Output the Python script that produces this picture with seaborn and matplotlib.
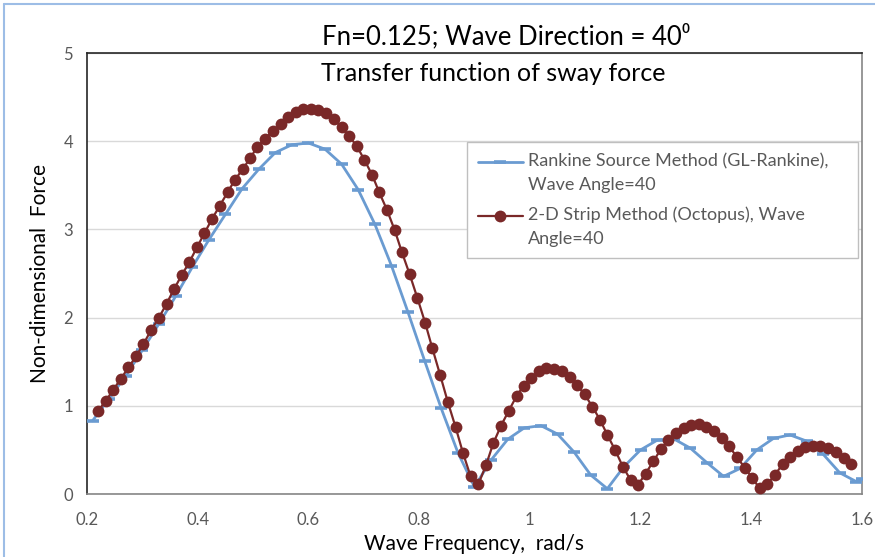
import matplotlib
matplotlib.use("Agg")
import matplotlib.pyplot as plt
from matplotlib.legend_handler import HandlerLine2D
import seaborn as sns
import pandas as pd

# Rankine source method (GL-Rankine), wave angle 40
blue_freq = [0.21, 0.24, 0.27, 0.30, 0.33, 0.36, 0.39, 0.42, 0.45, 0.48,
             0.51, 0.54, 0.57, 0.60, 0.63, 0.66, 0.69, 0.72, 0.75, 0.78,
             0.81, 0.84, 0.87, 0.90, 0.93, 0.96, 0.99, 1.02, 1.05, 1.08,
             1.11, 1.14, 1.17, 1.20, 1.23, 1.26, 1.29, 1.32, 1.35, 1.38,
             1.41, 1.44, 1.47, 1.50, 1.53, 1.56, 1.59, 1.60]
blue_force = [0.83, 1.08, 1.34, 1.63, 1.93, 2.24, 2.57, 2.88, 3.17, 3.46,
              3.68, 3.87, 3.96, 3.98, 3.91, 3.74, 3.45, 3.06, 2.59, 2.06,
              1.51, 0.97, 0.47, 0.08, 0.385, 0.62, 0.75, 0.775, 0.68, 0.475,
              0.215, 0.06, 0.31, 0.50, 0.61, 0.625, 0.52, 0.355, 0.20, 0.29,
              0.50, 0.63, 0.67, 0.60, 0.45, 0.24, 0.14, 0.17]

# 2-D strip method (Octopus), wave angle 40
red_freq = [0.220, 0.234, 0.247, 0.261, 0.275, 0.289, 0.302, 0.316, 0.330, 0.344,
            0.357, 0.371, 0.385, 0.399, 0.412, 0.426, 0.440, 0.454, 0.467, 0.481,
            0.495, 0.508, 0.522, 0.536, 0.550, 0.563, 0.577, 0.591, 0.605, 0.618,
            0.632, 0.646, 0.660, 0.673, 0.687, 0.701, 0.715, 0.728, 0.742, 0.756,
            0.769, 0.783, 0.797, 0.811, 0.824, 0.838, 0.852, 0.866, 0.879, 0.893,
            0.907, 0.921, 0.934, 0.948, 0.962, 0.976, 0.989, 1.003, 1.017, 1.030,
            1.044, 1.058, 1.072, 1.085, 1.099, 1.113, 1.127, 1.140, 1.154, 1.168,
            1.182, 1.195, 1.209, 1.223, 1.237, 1.250, 1.264, 1.278, 1.292, 1.305,
            1.319, 1.333, 1.347, 1.360, 1.374, 1.388, 1.402, 1.415, 1.429, 1.443,
            1.457, 1.470, 1.484, 1.498, 1.512, 1.525, 1.539, 1.553, 1.567, 1.580]
red_force = [0.945, 1.054, 1.179, 1.304, 1.436, 1.565, 1.70, 1.86, 2.00, 2.16,
             2.32, 2.48, 2.63, 2.80, 2.955, 3.12, 3.27, 3.42, 3.56, 3.68,
             3.81, 3.94, 4.03, 4.12, 4.19, 4.28, 4.33, 4.36, 4.37, 4.35,
             4.32, 4.25, 4.16, 4.06, 3.95, 3.79, 3.62, 3.42, 3.22, 2.99,
             2.74, 2.49, 2.22, 1.94, 1.65, 1.35, 1.04, 0.756, 0.47, 0.20,
             0.11, 0.33, 0.575, 0.775, 0.944, 1.11, 1.23, 1.32, 1.39, 1.425,
             1.417, 1.39, 1.33, 1.235, 1.13, 0.99, 0.84, 0.67, 0.50, 0.31,
             0.16, 0.10, 0.23, 0.37, 0.51, 0.61, 0.695, 0.745, 0.78, 0.79,
             0.76, 0.72, 0.64, 0.54, 0.42, 0.30, 0.18, 0.065, 0.11, 0.22,
             0.34, 0.42, 0.49, 0.53, 0.545, 0.545, 0.52, 0.48, 0.41, 0.34]

x_ticks = [0.2, 0.4, 0.6, 0.8, 1.0, 1.2, 1.4, 1.6]
x_tick_labels = ["0.2", "0.4", "0.6", "0.8", "1", "1.2", "1.4", "1.6"]
y_ticks = [0, 1, 2, 3, 4, 5]

label_blue = "Rankine Source Method (GL-Rankine),\nWave Angle=40"
label_red = "2-D Strip Method (Octopus), Wave\nAngle=40"


class FirstLineHandler(HandlerLine2D):
    # put the legend sample level with the first text line, like Excel does
    def create_artists(self, legend, orig_handle, xdescent, ydescent,
                       width, height, fontsize, trans):
        artists = super().create_artists(legend, orig_handle, xdescent, ydescent,
                                         width, height, fontsize, trans)
        for a in artists:
            a.set_ydata([y + 0.62 * fontsize for y in a.get_ydata()])
        return artists


sns.set_style("white")
plt.rcParams["font.family"] = ["Lato", "DejaVu Sans"]

blue = "#6a9bd1"
red = "#7a2828"
grey_text = "#595959"

df_blue = pd.DataFrame({"freq": blue_freq, "force": blue_force})
df_red = pd.DataFrame({"freq": red_freq, "force": red_force})

fig = plt.figure(figsize=(8.75, 5.57), dpi=100)
ax = fig.add_axes([0.0994, 0.1131, 0.8857, 0.7917])

sns.lineplot(data=df_blue, x="freq", y="force", ax=ax, color=blue, linewidth=2.0,
             marker="_", markersize=9, markeredgewidth=2.6, markeredgecolor=blue,
             label=label_blue, zorder=3)
sns.lineplot(data=df_red, x="freq", y="force", ax=ax, color=red, linewidth=1.6,
             marker="o", markersize=8.5, markeredgewidth=0, markerfacecolor=red,
             markeredgecolor=red, label=label_red, zorder=4)

ax.set_xlim(0.2, 1.6)
ax.set_ylim(0, 5)
ax.set_xticks(x_ticks)
ax.set_xticklabels(x_tick_labels)
ax.set_yticks(y_ticks)
ax.tick_params(axis="both", length=0, labelsize=12, colors=grey_text)
ax.tick_params(axis="x", pad=13)
ax.tick_params(axis="y", pad=10)

ax.grid(axis="y", color="#d9d9d9", linewidth=1)
ax.grid(axis="x", visible=False)
for side in ["left", "top"]:
    ax.spines[side].set_color("#262626")
    ax.spines[side].set_linewidth(1.2)
for side in ["right", "bottom"]:
    ax.spines[side].set_color("#868686")
    ax.spines[side].set_linewidth(1.2)

ax.set_xlabel("Wave Frequency,  rad/s", fontsize=15, color="black", labelpad=4)
ax.set_ylabel("Non-dimensional  Force", fontsize=15, color="black", labelpad=10)

fig.text(0.579, 0.934, "Fn=0.125; Wave Direction = 40\u2070", ha="center", va="center",
         fontsize=18.5, color="black")
fig.text(0.564, 0.868, "Transfer function of sway force",
         ha="center", va="center", fontsize=18, color="black")

handles, labels = ax.get_legend_handles_labels()
leg = ax.legend(handles, labels, loc="upper left",
                bbox_to_anchor=(0.49, 0.526, 0.505, 0.272),
                mode="expand", frameon=True, fancybox=False, framealpha=1,
                edgecolor="#bfbfbf", fontsize=13, handlelength=2.5,
                handletextpad=0.3, labelspacing=0.75, borderpad=0.6,
                borderaxespad=0, labelcolor=grey_text,
                handler_map={h: FirstLineHandler() for h in handles})
leg.get_frame().set_linewidth(1)
for t in leg.get_texts():
    t.set_linespacing(1.6)

# thin light-blue frame along the top and left edge of the picture
fig.add_artist(plt.Line2D([0.004, 0.004], [0.0, 0.992], color="#9dbde6", linewidth=1.5))
fig.add_artist(plt.Line2D([0.004, 1.0], [0.992, 0.992], color="#9dbde6", linewidth=1.5))

fig.savefig("out.png", dpi=100)
